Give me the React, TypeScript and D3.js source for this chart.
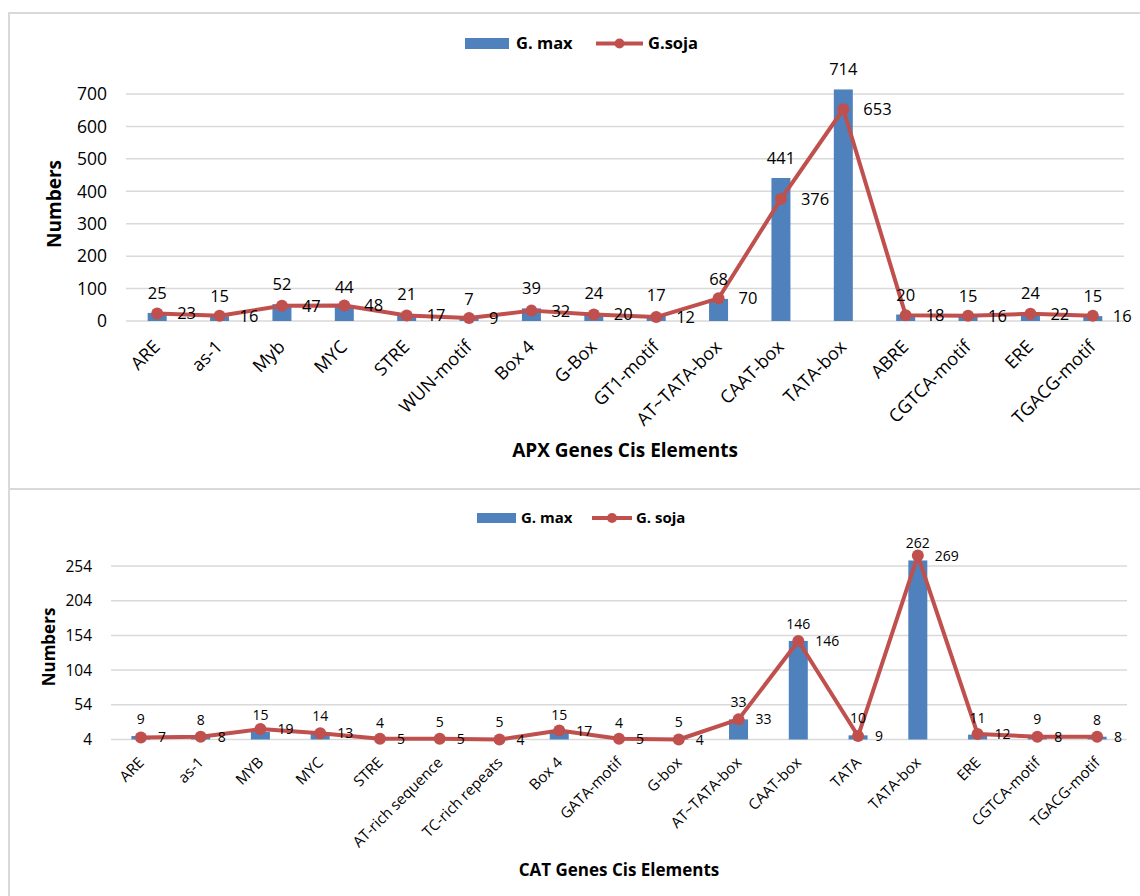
import * as d3 from "d3";

// APX panel
const apxCategories = [
  "ARE", "as-1", "Myb", "MYC", "STRE", "WUN-motif", "Box 4", "G-Box",
  "GT1-motif", "AT~TATA-box", "CAAT-box", "TATA-box", "ABRE", "CGTCA-motif",
  "ERE", "TGACG-motif",
];
const apxGmax = [25, 15, 52, 44, 21, 7, 39, 24, 17, 68, 441, 714, 20, 15, 24, 15];
const apxGsoja = [23, 16, 47, 48, 17, 9, 32, 20, 12, 70, 376, 653, 18, 16, 22, 16];
const apxTicks = [0, 100, 200, 300, 400, 500, 600, 700];

// CAT panel
const catCategories = [
  "ARE", "as-1", "MYB", "MYC", "STRE", "AT-rich sequence", "TC-rich repeats",
  "Box 4", "GATA-motif", "G-box", "AT~TATA-box", "CAAT-box", "TATA", "TATA-box",
  "ERE", "CGTCA-motif", "TGACG-motif",
];
const catGmax = [9, 8, 15, 14, 4, 5, 5, 15, 4, 5, 33, 146, 10, 262, 11, 9, 8];
const catGsoja = [7, 8, 19, 13, 5, 5, 4, 17, 5, 4, 33, 146, 9, 269, 12, 8, 8];
const catTicks = [4, 54, 104, 154, 204, 254];

const BAR_COLOR = "#4F81BD";
const LINE_COLOR = "#C0504D";
const GRID = "#d9d9d9";
const FONT = "'Open Sans', Lato, sans-serif";

interface ChartProps {
  categories: string[];
  bars: number[];
  line: number[];
  ticks: number[];
  barName: string;
  lineName: string;
  xTitle: string;
  frame: { x: number; y: number; w: number; h: number };
  plot: { left: number; right: number; bottom: number; top: number };
  barWidth: number;
  sizes: { tick: number; cat: number; label: number; legend: number; title: number };
  legend: { y: number; rectX: number; rectW: number; rectH: number; textX: number; lineX1: number; lineX2: number; text2X: number };
  yTitle: { x: number; y: number };
  xTitleY: number;
  catDy: number;
  barLabelDy: number;
  lineLabelDx: number;
}

const ComboChart = (p: ChartProps) => {
  const x = d3.scaleBand().domain(p.categories).range([p.plot.left, p.plot.right]);
  const y = d3
    .scaleLinear()
    .domain([p.ticks[0], p.ticks[p.ticks.length - 1]])
    .range([p.plot.bottom, p.plot.top]);
  const cx = (c: string) => x(c)! + x.bandwidth() / 2;

  const path = d3
    .line<number>()
    .x((_, i) => cx(p.categories[i]))
    .y((d) => y(d))(p.line);

  const lg = p.legend;

  return (
    <g fontFamily={FONT} fill="#000">
      <rect x={p.frame.x} y={p.frame.y} width={p.frame.w} height={p.frame.h} fill="#fff" stroke={GRID} strokeWidth={2} />

      {/* legend */}
      <rect x={lg.rectX} y={lg.y - lg.rectH / 2} width={lg.rectW} height={lg.rectH} fill={BAR_COLOR} />
      <text x={lg.textX} y={lg.y} dy="0.36em" fontSize={p.sizes.legend} fontWeight="bold">{p.barName}</text>
      <line x1={lg.lineX1} x2={lg.lineX2} y1={lg.y} y2={lg.y} stroke={LINE_COLOR} strokeWidth={4} />
      <circle cx={(lg.lineX1 + lg.lineX2) / 2} cy={lg.y} r={5} fill={LINE_COLOR} />
      <text x={lg.text2X} y={lg.y} dy="0.36em" fontSize={p.sizes.legend} fontWeight="bold">{p.lineName}</text>

      {/* grid + y ticks */}
      {p.ticks.map((t) => (
        <g key={t}>
          <line x1={p.plot.left} x2={p.plot.right} y1={y(t)} y2={y(t)} stroke={GRID} strokeWidth={1.5} />
          <text x={p.plot.left - 19} y={y(t)} dy="0.36em" textAnchor="end" fontSize={p.sizes.tick}>{t}</text>
        </g>
      ))}

      {/* bars */}
      {p.categories.map((c, i) => (
        <rect
          key={c}
          x={cx(c) - p.barWidth / 2}
          y={y(p.bars[i])}
          width={p.barWidth}
          height={Math.max(0, y(p.ticks[0]) - y(p.bars[i]))}
          fill={BAR_COLOR}
        />
      ))}

      {/* line */}
      <path d={path ?? ""} fill="none" stroke={LINE_COLOR} strokeWidth={4} strokeLinejoin="round" />
      {p.categories.map((c, i) => (
        <circle key={c} cx={cx(c)} cy={y(p.line[i])} r={6} fill={LINE_COLOR} />
      ))}

      {/* data labels */}
      {p.categories.map((c, i) => (
        <g key={c} fontSize={p.sizes.label}>
          <text x={cx(c)} y={y(p.bars[i]) - p.barLabelDy} textAnchor="middle">{p.bars[i]}</text>
          <text x={cx(c) + p.lineLabelDx} y={y(p.line[i])} dy="0.36em">{p.line[i]}</text>
        </g>
      ))}

      {/* category labels */}
      {p.categories.map((c) => (
        <text
          key={c}
          transform={`translate(${cx(c) + 4},${p.plot.bottom + p.catDy}) rotate(-45)`}
          textAnchor="end"
          fontSize={p.sizes.cat}
        >
          {c}
        </text>
      ))}

      {/* axis titles */}
      <text
        transform={`translate(${p.yTitle.x},${p.yTitle.y}) rotate(-90)`}
        textAnchor="middle"
        dy="0.36em"
        fontSize={p.sizes.title}
        fontWeight="bold"
      >
        Numbers
      </text>
      <text x={(p.plot.left + p.plot.right) / 2} y={p.xTitleY} dy="0.36em" textAnchor="middle" fontSize={p.sizes.title} fontWeight="bold">
        {p.xTitle}
      </text>
    </g>
  );
};

export default function App() {
  return (
    <svg width={1140} height={896} style={{ position: "absolute", left: 0, top: 0, background: "#fff" }}>
      <ComboChart
        categories={apxCategories}
        bars={apxGmax}
        line={apxGsoja}
        ticks={apxTicks}
        barName="G. max"
        lineName="G.soja"
        xTitle="APX Genes Cis Elements"
        frame={{ x: 9, y: 13, w: 1150, h: 476 }}
        plot={{ left: 126, right: 1124, bottom: 321, top: 94 }}
        barWidth={19}
        sizes={{ tick: 17.5, cat: 18, label: 16.5, legend: 16.5, title: 19 }}
        legend={{ y: 43.5, rectX: 465, rectW: 44, rectH: 11, textX: 516, lineX1: 596, lineX2: 643, text2X: 648 }}
        yTitle={{ x: 54, y: 204 }}
        xTitleY={450}
        catDy={27}
        barLabelDy={14}
        lineLabelDx={20}
      />
      <ComboChart
        categories={catCategories}
        bars={catGmax}
        line={catGsoja}
        ticks={catTicks}
        barName="G. max"
        lineName="G. soja"
        xTitle="CAT Genes Cis Elements"
        frame={{ x: 9, y: 489, w: 1150, h: 420 }}
        plot={{ left: 111, right: 1127, bottom: 739.5, top: 566 }}
        barWidth={19}
        sizes={{ tick: 15.5, cat: 15, label: 14, legend: 15, title: 17 }}
        legend={{ y: 518, rectX: 477, rectW: 39, rectH: 10, textX: 521, lineX1: 592, lineX2: 632, text2X: 636 }}
        yTitle={{ x: 49, y: 647 }}
        xTitleY={870}
        catDy={24}
        barLabelDy={12}
        lineLabelDx={17}
      />
    </svg>
  );
}
